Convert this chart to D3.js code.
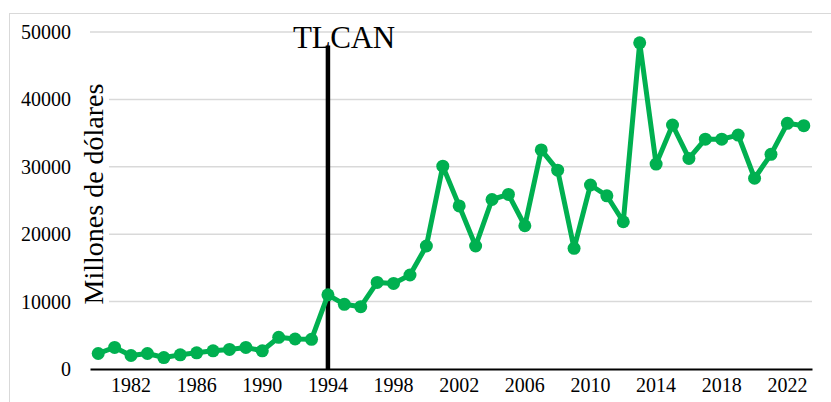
<!DOCTYPE html>
<html>
<head>
<meta charset="utf-8">
<script src="https://cdn.jsdelivr.net/npm/d3@7"></script>
<style>
    body { margin: 0; background: #fff; }
    #chart text { font-family: "Liberation Serif", "Times New Roman", serif; fill: #000; }
</style>
</head>
<body>
<div id="chart"></div>
<script>
// years (categories)
var years = d3.range(1980, 2024);

// inversion, millones de dolares
var values = [2300, 3200, 2000, 2300, 1700, 2100, 2400, 2700, 2900, 3200,
    2700, 4700, 4450, 4400, 11000, 9600, 9250, 12850, 12700, 13950,
    18250, 30100, 24200, 18250, 25150, 25900, 21250, 32500, 29500, 17900,
    27300, 25700, 21850, 48400, 30400, 36200, 31250, 34100, 34100, 34700,
    28300, 31850, 36450, 36100];

// tick labels
var xTickLabels = d3.range(1982, 2024, 4);
var yTickValues = [0, 10000, 20000, 30000, 40000, 50000];

// marker for the treaty
var markerYear = 1994;
var markerLabel = "TLCAN";
var markerTop = 48000;

var svgWidth = 831;
var svgHeight = 402;

var margin = {
    top: 32,
    bottom: 33,
    right: 19,
    left: 90
};

var height = svgHeight - margin.top - margin.bottom;
var width = svgWidth - margin.left - margin.right;

var svg = d3.select("#chart")
    .append("svg")
    .attr("width", svgWidth)
    .attr("height", svgHeight);

// chart border (runs off the right and bottom edge)
svg.append("rect")
    .attr("x", 9.5)
    .attr("y", 13.5)
    .attr("width", 840)
    .attr("height", 420)
    .attr("fill", "none")
    .attr("stroke", "#d9d9d9");

var chartGroup = svg.append("g")
    .attr("transform", `translate(${margin.left}, ${margin.top})`);

// scales
var xBandScale = d3.scaleBand()
    .domain(years)
    .range([0, width]);

var yLinearScale = d3.scaleLinear()
    .domain([0, 50000])
    .range([height, 0]);

var xPos = d => xBandScale(d) + xBandScale.bandwidth() / 2;

// gridlines
chartGroup.append("g")
    .selectAll("line")
    .data(yTickValues.filter(d => d > 0))
    .enter()
    .append("line")
    .attr("x1", 0)
    .attr("x2", width)
    .attr("y1", d => yLinearScale(d))
    .attr("y2", d => yLinearScale(d))
    .attr("stroke", "#d9d9d9")
    .attr("stroke-width", 1.5);

// y axis labels
var leftAxis = d3.axisLeft(yLinearScale)
    .tickValues(yTickValues)
    .tickSize(0)
    .tickPadding(19)
    .tickFormat(d3.format("d"));

var yAxisGroup = chartGroup.append("g").call(leftAxis);
yAxisGroup.select(".domain").remove();
yAxisGroup.selectAll("text").style("font-size", "20px");

// x axis
var bottomAxis = d3.axisBottom(xBandScale)
    .tickValues(xTickLabels)
    .tickSize(0)
    .tickPadding(9);

var xAxisGroup = chartGroup.append("g")
    .attr("transform", `translate(0, ${height})`)
    .call(bottomAxis);
xAxisGroup.select(".domain")
    .attr("stroke", "#000")
    .attr("stroke-width", 2);
xAxisGroup.selectAll("text").style("font-size", "20px");

// y axis title, white box behind it hides the gridlines
var titleGroup = chartGroup.append("g");
var yTitle = titleGroup.append("text")
    .attr("transform", "rotate(-90)")
    .attr("x", -(194 - margin.top))
    .attr("y", 13)
    .attr("text-anchor", "middle")
    .style("font-size", "28px")
    .text("Millones de dólares");

var bb = yTitle.node().getBBox();
titleGroup.insert("rect", "text")
    .attr("transform", "rotate(-90)")
    .attr("x", bb.x)
    .attr("y", bb.y + 2)
    .attr("width", bb.width)
    .attr("height", bb.height - 2)
    .attr("fill", "#fff");

// TLCAN vertical line
chartGroup.append("line")
    .attr("x1", xPos(markerYear))
    .attr("x2", xPos(markerYear))
    .attr("y1", yLinearScale(markerTop))
    .attr("y2", height)
    .attr("stroke", "#000")
    .attr("stroke-width", 4.5);

chartGroup.append("text")
    .attr("x", xPos(markerYear) + 16)
    .attr("y", 16)
    .attr("text-anchor", "middle")
    .style("font-size", "31px")
    .style("letter-spacing", "-0.3px")
    .text(markerLabel);

// series line
var line = d3.line()
    .x((d, i) => xPos(years[i]))
    .y(d => yLinearScale(d));

chartGroup.append("path")
    .datum(values)
    .attr("d", line)
    .attr("fill", "none")
    .attr("stroke", "#00b050")
    .attr("stroke-width", 5)
    .attr("stroke-linejoin", "round");

// markers
chartGroup.append("g")
    .selectAll("circle")
    .data(values)
    .enter()
    .append("circle")
    .attr("cx", (d, i) => xPos(years[i]))
    .attr("cy", d => yLinearScale(d))
    .attr("r", 6.5)
    .attr("fill", "#00b050");
</script>
</body>
</html>
